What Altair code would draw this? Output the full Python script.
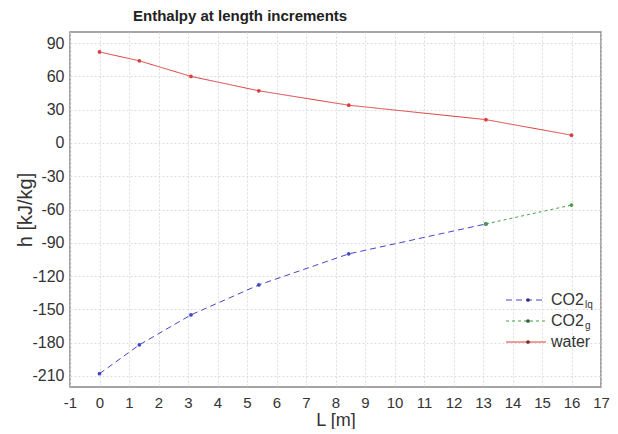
import altair as alt
import pandas as pd

# ---- data ----
L_vals = [0.0, 1.35, 3.1, 5.4, 8.45, 13.1, 16.0]
water_h = [82, 74, 60, 47, 34, 21, 7]
co2_h = [-208, -182, -155, -128, -100, -73, -56]
n_lq = 6  # points in liquid phase; gas phase from index 5 onward

series_names = ["CO2lq", "CO2g", "water"]
series_colors = ["#4646c8", "#46a046", "#dc3c3c"]
point_colors = ["#303080", "#306030", "#802828"]
x_ticks = list(range(-1, 18))
y_ticks = list(range(-210, 91, 30))
title_text = "Enthalpy at length increments"

rows = []
for i in range(n_lq):
    rows.append({"L": L_vals[i], "h": co2_h[i], "s": "CO2lq"})
for i in range(n_lq - 1, len(L_vals)):
    rows.append({"L": L_vals[i], "h": co2_h[i], "s": "CO2g"})
for i in range(len(L_vals)):
    rows.append({"L": L_vals[i], "h": water_h[i], "s": "water"})
df = pd.DataFrame(rows)

W, H = 531, 355
FONT = "Liberation Sans"

x_axis = alt.Axis(title="L [m]", values=x_ticks, labelOverlap=False, labelFlush=False,
                  labelExpr="toString(datum.value)",
                  labelFontSize=15, labelColor="#333", labelPadding=8,
                  titleFontSize=18, titleFontWeight="normal", titleColor="#333",
                  titleY=38, titleBaseline="alphabetic",
                  ticks=False, domain=False, labelFont=FONT, titleFont=FONT,
                  gridColor="#dcdcdc", gridDash=[2, 2])
y_axis = alt.Axis(title="h [kJ/kg]", values=y_ticks, labelOverlap=False, labelFlush=False,
                  labelExpr="toString(datum.value)",
                  labelFontSize=16, labelColor="#333", labelPadding=6,
                  titleFontSize=20, titleFontWeight="normal", titleColor="#333",
                  titleX=-45, titleY=H / 2, titleAngle=-90, titleAlign="center",
                  titleBaseline="middle",
                  ticks=False, domain=False, labelFont=FONT, titleFont=FONT,
                  gridColor="#dcdcdc", gridDash=[2, 2])

x_scale = alt.Scale(domain=[-1, 17], nice=False, zero=False)
y_scale = alt.Scale(domain=[-220, 100], nice=False, zero=False)

color_scale = alt.Scale(domain=series_names, range=series_colors)
dash_scale = alt.Scale(domain=series_names, range=[[6, 4], [3, 3], [1, 0]])

lines = alt.Chart(df).mark_line(strokeWidth=1).encode(
    x=alt.X("L:Q", scale=x_scale, axis=x_axis),
    y=alt.Y("h:Q", scale=y_scale, axis=y_axis),
    color=alt.Color("s:N", scale=color_scale, legend=None),
    strokeDash=alt.StrokeDash("s:N", scale=dash_scale, legend=None),
    detail="s:N",
)
points = alt.Chart(df).mark_point(filled=True, size=14, opacity=1).encode(
    x=alt.X("L:Q", scale=x_scale, axis=x_axis),
    y=alt.Y("h:Q", scale=y_scale, axis=y_axis),
    color=alt.Color("s:N", scale=alt.Scale(domain=series_names, range=point_colors), legend=None),
)

one = pd.DataFrame({"a": [0]})

title_layer = alt.Chart(one).mark_text(
    text=title_text, align="left", baseline="alphabetic", fontSize=15,
    fontWeight="bold", font=FONT, color="#222").encode(
    x=alt.value(63), y=alt.value(-11))

# ---- manual legend (with subscripts) ----
legend_main = ["CO2", "CO2", "water"]
legend_sub = ["lq", "g", ""]
legend_dash = [[6, 4], [3, 3], [1, 0]]
row_y = [268, 289, 310]
legend_layers = []
for i in range(3):
    legend_layers.append(
        alt.Chart(one).mark_rule(color=series_colors[i], strokeWidth=1,
                                 strokeDash=legend_dash[i]).encode(
            x=alt.value(436), x2=alt.value(476), y=alt.value(row_y[i]))
    )
    legend_layers.append(
        alt.Chart(one).mark_point(filled=True, size=14, opacity=1,
                                  color=point_colors[i]).encode(
            x=alt.value(458), y=alt.value(row_y[i]))
    )
    legend_layers.append(
        alt.Chart(one).mark_text(text=legend_main[i], align="left", baseline="middle",
                                 fontSize=16, font=FONT, color="#333").encode(
            x=alt.value(481), y=alt.value(row_y[i]))
    )
    if legend_sub[i]:
        legend_layers.append(
            alt.Chart(one).mark_text(text=legend_sub[i], align="left", baseline="middle",
                                     fontSize=10, font=FONT, color="#333").encode(
                x=alt.value(515), y=alt.value(row_y[i] + 5))
        )

chart = alt.layer(lines, points, title_layer, *legend_layers).properties(
    width=W, height=H,
    autosize=alt.AutoSizeParams(type="none"),
    padding={"left": 62, "top": 24, "right": 9, "bottom": 42},
).configure_view(stroke="#888", strokeWidth=1.5).configure_axis(
    labelOverlap=False, labelFlush=False)

chart.save("out.html", embed_options={"renderer": "svg", "actions": False})
